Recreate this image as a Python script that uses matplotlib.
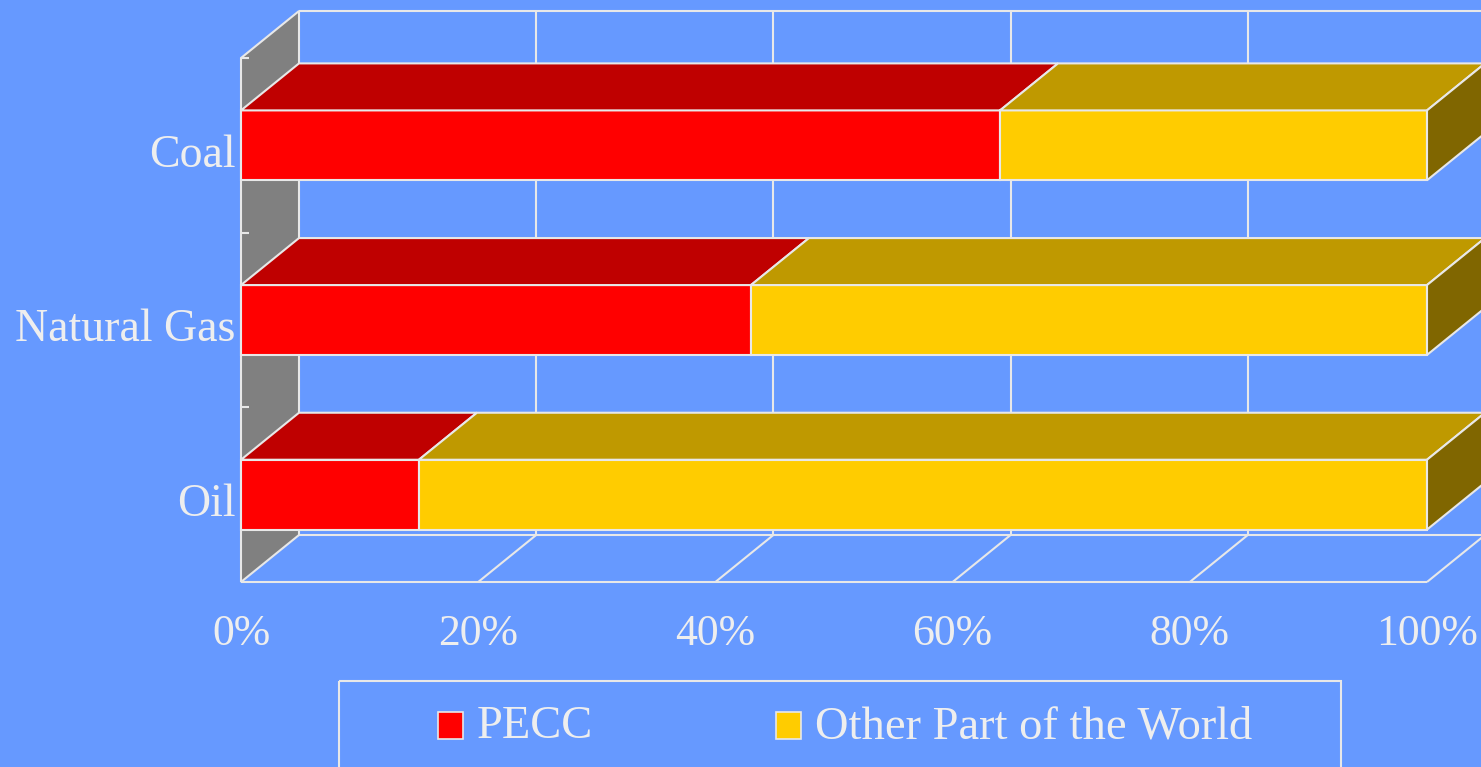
import matplotlib
matplotlib.use("Agg")
import matplotlib.pyplot as plt
from matplotlib.patches import Polygon, Rectangle

# data (share of world total, %)
categories = ["Oil", "Natural Gas", "Coal"]
pecc = [15, 43, 64]
other = [85, 57, 36]
series_names = ["PECC", "Other Part of the World"]
xticks = [0, 20, 40, 60, 80, 100]
xtick_labels = ["0%", "20%", "40%", "60%", "80%", "100%"]

bg = "#6699FF"
line_c = "#E8E8E8"
text_c = "#EEEEEE"
front_cols = ["#FF0000", "#FFCC00"]
top_cols = ["#BF0000", "#BF9900"]
side_col = "#806600"
wall_col = "#808080"

plt.rcParams["font.family"] = ["Liberation Serif", "DejaVu Serif"]

W, H = 1481, 767
fig = plt.figure(figsize=(W / 100, H / 100), dpi=100, facecolor=bg)
ax = fig.add_axes([241 / W, (H - 582) / H, 1186 / W, 524 / H])
ax.set_xlim(0, 100)
ax.set_ylim(-0.5, 2.5)
ax.set_facecolor("none")
for s in ax.spines.values():
    s.set_visible(False)

# depth offset of the fake 3d box
dx = 58 / 1186 * 100
dy = 47 / 524 * 3
bh = 0.4
lw = 1.5
ymin, ymax = -0.5, len(categories) - 0.5


def poly(pts, fc, z=2):
    p = Polygon(pts, closed=True, facecolor=fc, edgecolor=line_c, lw=lw,
                clip_on=False, zorder=z, joinstyle="miter")
    ax.add_patch(p)


def seg(x0, x1, y0, y1, z=1):
    ax.plot([x0, x1], [y0, y1], color=line_c, lw=lw, clip_on=False, zorder=z,
            solid_capstyle="butt")


# back wall grid
seg(dx, 100 + dx, ymax + dy, ymax + dy)
seg(dx, 100 + dx, ymin + dy, ymin + dy)
for t in xticks[1:]:
    seg(t + dx, t + dx, ymin + dy, ymax + dy)
    seg(t, t + dx, ymin, ymin + dy)
seg(0, 100, ymin, ymin)

# left wall
poly([(0, ymin), (0, ymax), (dx, ymax + dy), (dx, ymin + dy)], wall_col, z=1.5)
for yb in [ymin + 1, ymin + 2, ymax]:
    seg(0, 0.7, yb, yb, z=1.6)

# bars
for i, cat in enumerate(categories):
    y0, y1 = i - bh / 2, i + bh / 2
    left = 0
    for k, v in enumerate([pecc[i], other[i]]):
        r = left + v
        poly([(left, y0), (r, y0), (r, y1), (left, y1)], front_cols[k], z=3)
        poly([(left, y1), (r, y1), (r + dx, y1 + dy), (left + dx, y1 + dy)],
             top_cols[k], z=3)
        left = r
    poly([(left, y0), (left + dx, y0 + dy), (left + dx, y1 + dy), (left, y1)],
         side_col, z=3)

ax.set_xticks(xticks)
ax.set_xticklabels(xtick_labels)
ax.set_yticks([c - 0.03 for c in range(len(categories))])
ax.set_yticklabels(categories)
ax.tick_params(axis="x", length=0, pad=23, labelsize=31.5, labelcolor=text_c)
ax.tick_params(axis="y", length=0, pad=4, labelsize=33, labelcolor=text_c)

# legend box (runs off the bottom of the picture)
lax = fig.add_axes([0, 0, 1, 1])
lax.set_xlim(0, W)
lax.set_ylim(H, 0)
lax.axis("off")
lax.add_patch(Rectangle((339, 681), 1002, 120, facecolor="none",
                        edgecolor=line_c, lw=lw, clip_on=False))
leg_x = [438, 776]
for k, name in enumerate(series_names):
    lax.add_patch(Rectangle((leg_x[k], 712), 25, 27, facecolor=front_cols[k],
                            edgecolor=line_c, lw=1.2))
    lax.text(leg_x[k] + 39, 727, name, color=text_c, fontsize=33.5,
             va="center", ha="left")

fig.savefig("out.png", dpi=100, facecolor=bg)
